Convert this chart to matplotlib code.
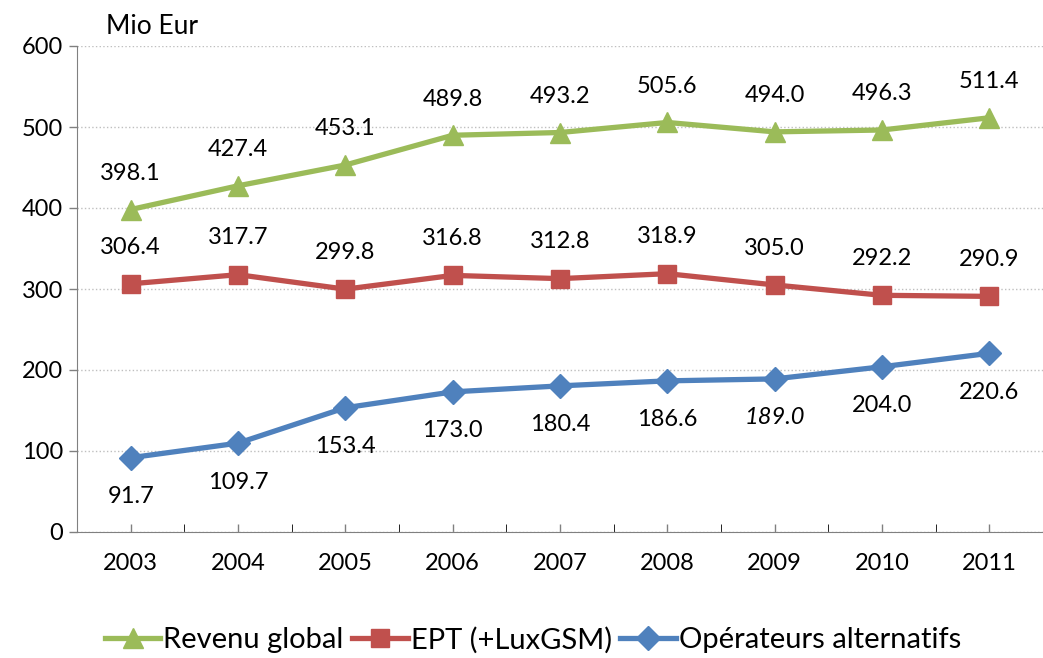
import numpy as np
import matplotlib.pyplot as plt
from matplotlib.ticker import MultipleLocator

plt.rcParams['font.family'] = ['Lato', 'DejaVu Sans']

years = [2003, 2004, 2005, 2006, 2007, 2008, 2009, 2010, 2011]
revenu_global = [398.1, 427.4, 453.1, 489.8, 493.2, 505.6, 494.0, 496.3, 511.4]
ept = [306.4, 317.7, 299.8, 316.8, 312.8, 318.9, 305.0, 292.2, 290.9]
alternatifs = [91.7, 109.7, 153.4, 173.0, 180.4, 186.6, 189.0, 204.0, 220.6]

green = '#9BBB59'
red = '#C0504D'
blue = '#4F81BD'

fig = plt.figure(figsize=(10.43, 6.58), dpi=100)
ax = fig.add_axes([77 / 1043, 1 - 532 / 658, 1 - 77 / 1043, (532 - 46) / 658])

ax.plot(years, revenu_global, color=green, lw=3.8, marker='^', ms=14,
        label='Revenu global')
ax.plot(years, ept, color=red, lw=3.8, marker='s', ms=13,
        label='EPT (+LuxGSM)')
ax.plot(years, alternatifs, color=blue, lw=3.8, marker='D', ms=12,
        label='Opérateurs alternatifs')

fs = 17
# labels centred ~36 px above / 39 px below the markers
for x, v in zip(years, revenu_global):
    ax.annotate(f'{v:.1f}', (x, v), xytext=(0, 26), textcoords='offset points',
                ha='center', va='center', fontsize=fs)
for x, v in zip(years, ept):
    ax.annotate(f'{v:.1f}', (x, v), xytext=(0, 26.5), textcoords='offset points',
                ha='center', va='center', fontsize=fs)
for x, v in zip(years, alternatifs):
    style = 'italic' if x == 2009 else 'normal'
    ax.annotate(f'{v:.1f}', (x, v), xytext=(0, -28), textcoords='offset points',
                ha='center', va='center', fontsize=fs, style=style)

ax.set_xlim(2002.5, 2011.415)
ax.set_ylim(0, 600)
ax.yaxis.set_major_locator(MultipleLocator(100))
ax.set_xticks(years)
ax.set_xticks(np.arange(2002.5, 2011.6, 1.0), minor=True)
ax.tick_params(axis='both', labelsize=fs, length=6, width=1, color='#808080')
ax.tick_params(axis='x', which='both', direction='in', length=6, pad=15)
ax.tick_params(axis='y', direction='out', length=6, pad=4)
ax.grid(axis='y', linestyle=':', color='#BFBFBF', lw=1)
ax.set_axisbelow(True)
for s in ['top', 'right']:
    ax.spines[s].set_visible(False)
ax.spines['left'].set_color('#808080')
ax.spines['bottom'].set_color('#808080')

fig.text(106 / 1043, 1 - 27 / 658, 'Mio Eur', fontsize=19, va='center', ha='left')

fig.legend(loc='center', bbox_to_anchor=(533 / 1043, 1 - 640 / 658), ncol=3,
           frameon=False, fontsize=21, handlelength=1.9, handletextpad=0.1,
           columnspacing=0.3, borderaxespad=0)

fig.savefig('out.png', dpi=100)
